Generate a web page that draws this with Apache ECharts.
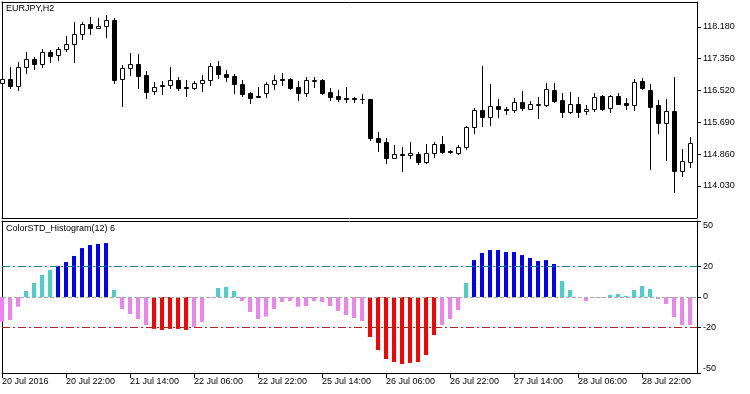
<!DOCTYPE html>
<html><head><meta charset="utf-8">
<script src="https://cdn.jsdelivr.net/npm/echarts@6/dist/echarts.min.js"></script>
<style>html,body{margin:0;padding:0;background:#fff}#c{width:750px;height:394px}</style>
</head><body><div id="c"></div>
<script>
const opens = [116.72,116.82,116.64,117.14,117.35,117.21,117.53,117.45,117.61,117.74,
118.00,118.26,118.15,118.21,118.36,116.82,117.11,117.21,116.93,116.51,
116.67,116.67,116.80,116.61,116.59,116.72,116.80,117.16,116.95,116.90,
116.69,116.46,116.38,116.46,116.69,116.82,116.82,116.61,116.46,116.77,
116.80,116.48,116.38,116.33,116.33,116.31,116.30,115.28,115.18,114.76,
114.87,114.84,114.87,114.66,114.89,115.13,114.94,114.89,115.05,115.57,
116.01,115.83,116.12,116.04,116.01,116.22,116.04,116.14,116.14,116.54,
116.28,115.96,116.17,115.99,116.04,116.38,116.07,116.38,116.20,116.14,
116.77,116.54,116.14,115.67,115.99,114.42,114.66];
const closes = [116.82,116.64,117.14,117.35,117.21,117.53,117.42,117.61,117.74,118.00,
118.26,118.15,118.21,118.36,116.80,117.11,117.21,116.90,116.48,116.61,
116.64,116.80,116.59,116.59,116.72,116.80,117.16,116.95,116.88,116.69,
116.43,116.33,116.35,116.69,116.80,116.80,116.59,116.46,116.80,116.80,
116.46,116.35,116.30,116.30,116.30,116.30,115.28,115.18,114.76,114.87,
114.84,114.89,114.66,114.89,115.13,114.92,114.92,115.05,115.57,116.01,
115.83,116.12,116.04,116.01,116.22,116.07,116.17,116.17,116.56,116.25,
115.96,116.17,115.96,116.04,116.35,116.04,116.38,116.17,116.14,116.74,
116.59,116.09,115.67,115.99,114.42,114.68,115.15];
const highs = [116.85,117.14,117.27,117.53,117.40,117.61,117.58,117.66,117.95,118.31,
118.31,118.44,118.42,118.49,118.42,117.19,117.50,117.48,117.03,116.74,
116.77,117.14,116.88,116.80,116.77,116.93,117.24,117.29,117.06,116.95,
116.80,116.48,116.61,116.74,116.93,116.98,116.85,116.77,116.88,116.88,
116.82,116.59,116.54,116.61,116.35,116.43,116.30,115.44,115.28,115.10,
115.05,115.18,114.92,115.13,115.18,115.34,114.97,115.10,115.60,116.07,
117.16,116.69,116.30,116.09,116.33,116.51,116.25,116.35,116.72,116.72,
116.46,116.48,116.35,116.14,116.46,116.41,116.41,116.46,116.33,116.82,
116.85,116.69,116.28,116.30,116.88,115.00,115.31];
const lows = [116.69,116.59,116.54,116.98,117.08,117.14,117.27,117.32,117.55,117.27,
117.87,118.00,118.15,117.92,116.72,116.12,116.93,116.59,116.33,116.43,
116.43,116.59,116.54,116.38,116.56,116.51,116.67,116.85,116.77,116.46,
116.38,116.20,116.35,116.35,116.56,116.67,116.56,116.28,116.38,116.61,
116.43,116.28,116.25,116.22,116.22,116.20,115.23,114.94,114.63,114.76,
114.42,114.76,114.60,114.63,114.79,114.89,114.89,114.87,115.00,115.41,
115.60,115.62,115.83,115.91,115.96,116.01,116.04,115.81,116.12,116.22,
115.83,115.94,115.83,115.91,115.99,116.01,115.96,116.17,116.04,116.01,
116.56,114.47,115.41,114.71,113.87,114.29,114.53];
const histValues = [-16.2,-15.1,-6.4,3.9,9.2,14.5,17.8,20.5,23.0,27.0,
32.2,34.2,34.9,35.5,4.6,-7.9,-11.2,-14.5,-18.4,-21.0,
-21.7,-21.0,-21.0,-21.7,-19.7,-16.4,-0.4,5.9,6.6,3.9,
-2.6,-9.9,-14.5,-12.9,-7.9,-3.3,-2.6,-6.4,-5.9,-2.6,
-3.3,-5.9,-9.2,-11.8,-13.8,-15.8,-26.3,-34.9,-40.8,-42.8,
-44.1,-43.4,-42.8,-38.2,-25.0,-18.4,-14.5,-8.6,9.2,24.3,
29.0,30.9,30.9,29.6,29.6,27.6,25.7,23.7,24.3,21.7,
10.5,4.6,0,-2.6,-0.4,-0.4,1.3,2.0,0.7,4.6,
7.2,5.3,-1.3,-4.6,-13.2,-18.4,-18.4];
const priceTicks = [114.03,114.86,115.69,116.52,117.35,118.18];
const histTicks = [-50,-20,0,20,50];
const upperLevel = 20;
const lowerLevel = -20;
const timeTickLabels = ['20 Jul 2016','20 Jul 22:00','21 Jul 14:00','22 Jul 06:00','22 Jul 22:00','25 Jul 14:00','26 Jul 06:00','26 Jul 22:00','27 Jul 14:00','28 Jul 06:00','28 Jul 22:00'];
const barsPerTimeTick = 8;

const FONT = 'Liberation Sans';
const timeTickValues = timeTickLabels.map((_, k) => k * barsPerTimeTick);
const xMax = 86.875;
const priceMin = 113.19, priceMax = 118.83;

function frameAxis(gridIndex, position, min, max, extra) {
  return Object.assign({
    type: 'value', gridIndex, position, min, max,
    axisLine: { show: true, onZero: false, lineStyle: { color: '#000', width: 1 } },
    axisTick: { show: false }, axisLabel: { show: false }, splitLine: { show: false }
  }, extra || {});
}

const candleData = opens.map((o, i) => [i, o, closes[i], lows[i], highs[i]]);
const histData = histValues.map((v, i) => [i, v]);

function renderCandle(params, api) {
  const i = api.value(0), o = api.value(1), c = api.value(2), lo = api.value(3), hi = api.value(4);
  const pO = api.coord([i, o]), pC = api.coord([i, c]), pL = api.coord([i, lo]), pH = api.coord([i, hi]);
  const x = Math.round(pO[0]) + 0.5;
  const yTop = Math.round(Math.min(pO[1], pC[1])) + 0.5;
  const yBot = Math.round(Math.max(pO[1], pC[1])) + 0.5;
  const up = c >= o;
  return { type: 'group', children: [
    { type: 'line', shape: { x1: x, y1: Math.round(pH[1]), x2: x, y2: Math.round(pL[1]) + 1 },
      style: { stroke: '#000', lineWidth: 1 } },
    { type: 'rect', shape: { x: x - 2, y: yTop, width: 4, height: yBot - yTop },
      style: { fill: up ? '#fff' : '#000', stroke: '#000', lineWidth: 1 } }
  ]};
}

function histColor(v) {
  if (v > upperLevel) return '#0000FF';
  if (v >= 0) return '#48D1CC';
  if (v >= lowerLevel) return '#EE82EE';
  return '#FF0000';
}

const chart = echarts.init(document.getElementById('c'), null, { renderer: 'canvas' });
chart.setOption({
  animation: false,
  backgroundColor: '#fff',
  textStyle: { fontFamily: FONT },
  title: [
    { text: 'EURJPY,H2', left: 6, top: 4, padding: 0,
      textStyle: { fontSize: 9, fontWeight: 'normal', color: '#000', fontFamily: FONT } },
    { text: 'ColorSTD_Histogram(12) 6', left: 6, top: 224, padding: 0,
      textStyle: { fontSize: 9, fontWeight: 'normal', color: '#000', fontFamily: FONT } }
  ],
  grid: [
    { left: 2, top: 2, width: 695, height: 216, outerBoundsMode: 'none', containLabel: false },
    { left: 2, top: 221, width: 695, height: 152, outerBoundsMode: 'none', containLabel: false }
  ],
  xAxis: [
    frameAxis(0, 'bottom', 0, xMax),
    frameAxis(0, 'top', 0, xMax),
    frameAxis(1, 'bottom', 0, xMax, {
      axisTick: { show: true, customValues: timeTickValues, length: 5, inside: false, lineStyle: { color: '#000' } },
      axisLabel: { show: true, customValues: timeTickValues, align: 'left', margin: 4,
        fontSize: 9, color: '#000', fontFamily: FONT,
        formatter: v => timeTickLabels[Math.round(v / barsPerTimeTick)] }
    }),
    frameAxis(1, 'top', 0, xMax)
  ],
  yAxis: [
    frameAxis(0, 'right', priceMin, priceMax, {
      axisTick: { show: true, customValues: priceTicks, length: 4, inside: false, lineStyle: { color: '#000' } },
      axisLabel: { show: true, customValues: priceTicks, margin: 6, fontSize: 9, color: '#000', fontFamily: FONT,
        formatter: v => v.toFixed(3) }
    }),
    frameAxis(0, 'left', priceMin, priceMax),
    frameAxis(1, 'right', -50, 50, {
      axisTick: { show: true, customValues: histTicks, length: 4, inside: false, lineStyle: { color: '#000' } },
      axisLabel: { show: true, customValues: histTicks, margin: 6, fontSize: 9, color: '#000', fontFamily: FONT,
        verticalAlignMaxLabel: 'top', verticalAlignMinLabel: 'bottom',
        formatter: v => String(v) }
    }),
    frameAxis(1, 'left', -50, 50)
  ],
  series: [
    { type: 'custom', xAxisIndex: 0, yAxisIndex: 0, data: candleData,
      encode: { x: 0, y: [1, 2, 3, 4] }, renderItem: renderCandle, silent: true },
    { type: 'bar', xAxisIndex: 2, yAxisIndex: 2, data: histData, barWidth: 4, silent: true,
      itemStyle: { color: p => histColor(p.value[1]) },
      markLine: { silent: true, symbol: 'none', animation: false, label: { show: false },
        data: [
          { yAxis: 0, lineStyle: { color: '#A8A8A8', type: [4, 2], width: 1 } },
          { yAxis: upperLevel, lineStyle: { color: '#108C8C', type: [8, 3, 2, 3], width: 1 } },
          { yAxis: lowerLevel, lineStyle: { color: '#B22222', type: [8, 3, 2, 3], width: 1 } }
        ] } }
  ]
});
</script></body></html>
